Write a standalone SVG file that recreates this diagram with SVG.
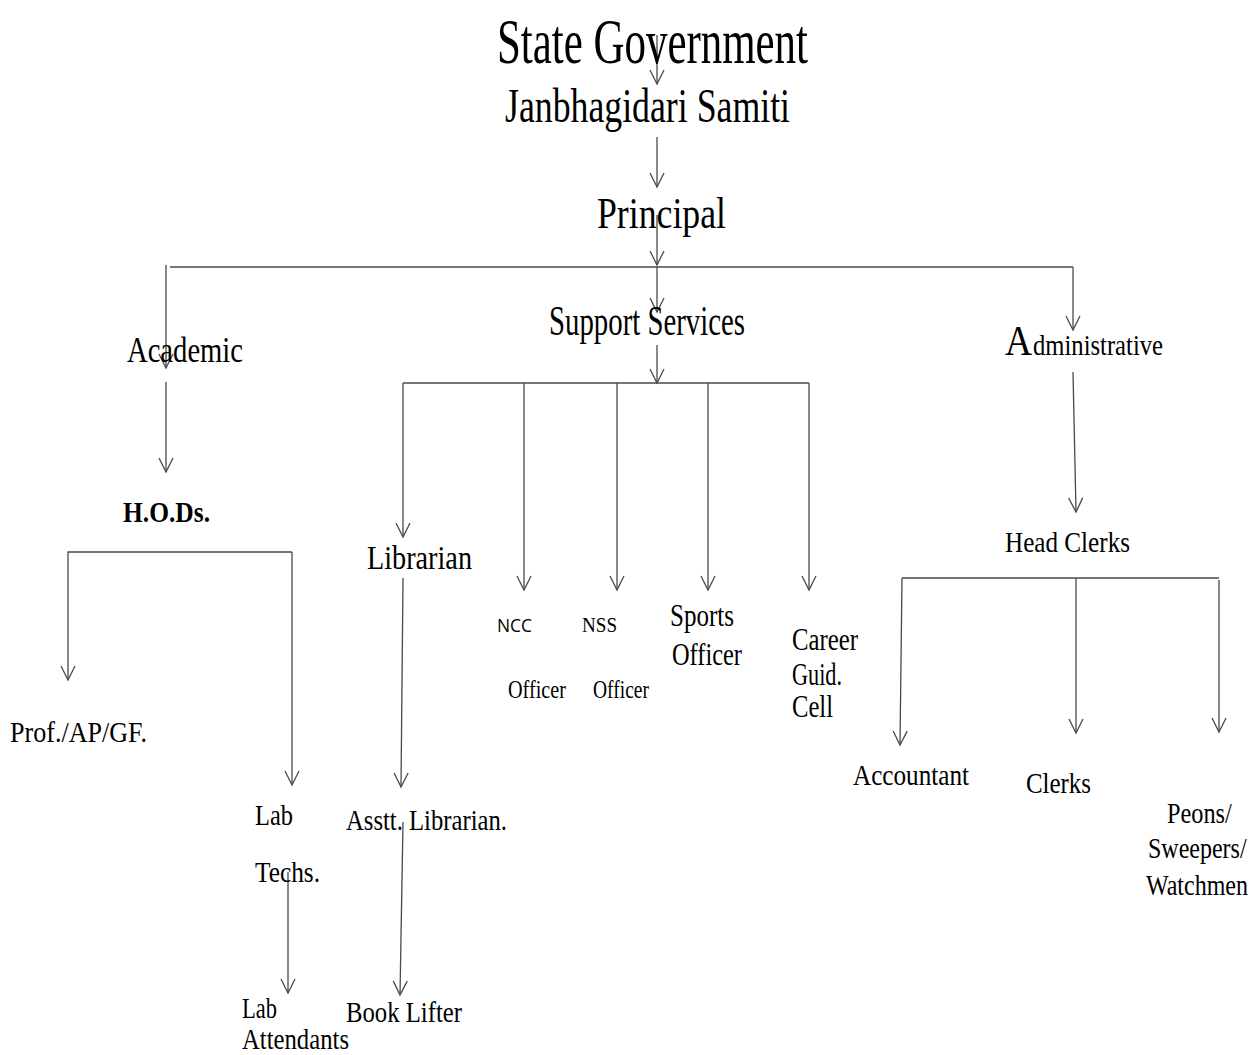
<svg xmlns="http://www.w3.org/2000/svg" width="1260" height="1055" viewBox="0 0 1260 1055">
<style>
text{font-family:"Liberation Serif","Times New Roman",serif;fill:#000;}
.c path,.c line{stroke:#4a4a4a;stroke-width:1.3;fill:none;}
.s{font-family:"Open Sans","Liberation Sans",sans-serif;}
</style>
<defs>
<marker id="a" markerUnits="userSpaceOnUse" markerWidth="18" markerHeight="18" viewBox="-16 -9 18 18" refX="0" refY="0" orient="auto" overflow="visible">
<path d="M-14,-7 L0,0 L-14,7" fill="none" stroke="#4a4a4a" stroke-width="1.3"/>
</marker>
</defs>
<rect width="1260" height="1055" fill="#fff"/>
<g class="c" id="connectors">
<line x1="657" y1="35" x2="657" y2="84" marker-end="url(#a)"/>
<line x1="657" y1="137" x2="657" y2="187" marker-end="url(#a)"/>
<line x1="657" y1="215" x2="657" y2="265" marker-end="url(#a)"/>
<path d="M170,267 L1073,267"/>
<line x1="166" y1="265" x2="166" y2="368" marker-end="url(#a)"/>
<line x1="1073" y1="267" x2="1073" y2="330" marker-end="url(#a)"/>
<line x1="657" y1="267" x2="657" y2="312" marker-end="url(#a)"/>
<line x1="166" y1="382" x2="166" y2="472" marker-end="url(#a)"/>
<path d="M292,552 L68,552 L68,680" marker-end="url(#a)"/>
<line x1="292" y1="552" x2="292" y2="785" marker-end="url(#a)"/>
<line x1="657" y1="345" x2="657" y2="383" marker-end="url(#a)"/>
<path d="M403,383 L809,383"/>
<line x1="403" y1="383" x2="403" y2="537" marker-end="url(#a)"/>
<line x1="524" y1="383" x2="524" y2="590" marker-end="url(#a)"/>
<line x1="617" y1="383" x2="617" y2="590" marker-end="url(#a)"/>
<line x1="708" y1="383" x2="708" y2="590" marker-end="url(#a)"/>
<line x1="809" y1="383" x2="809" y2="590" marker-end="url(#a)"/>
<line x1="403" y1="578" x2="401" y2="787" marker-end="url(#a)"/>
<line x1="403" y1="822" x2="400" y2="995" marker-end="url(#a)"/>
<line x1="288" y1="872" x2="288" y2="993" marker-end="url(#a)"/>
<line x1="1073" y1="372" x2="1076" y2="512" marker-end="url(#a)"/>
<path d="M902,578 L1219,578"/>
<line x1="902" y1="578" x2="900" y2="745" marker-end="url(#a)"/>
<line x1="1076" y1="578" x2="1076" y2="733" marker-end="url(#a)"/>
<line x1="1219" y1="580" x2="1219" y2="732" marker-end="url(#a)"/>
</g>
<g id="state-government"><text x="497" y="63" font-size="64" textLength="311" lengthAdjust="spacingAndGlyphs">State Government</text></g>
<g id="janbhagidari-samiti"><text x="505" y="122" font-size="48" textLength="285" lengthAdjust="spacingAndGlyphs">Janbhagidari Samiti</text></g>
<g id="principal"><text x="597" y="228" font-size="45" textLength="129" lengthAdjust="spacingAndGlyphs">Principal</text></g>
<g id="support-services"><text x="549" y="335" font-size="42" textLength="196" lengthAdjust="spacingAndGlyphs">Support Services</text></g>
<g id="academic"><text x="127" y="362" font-size="36" textLength="116" lengthAdjust="spacingAndGlyphs">Academic</text></g>
<g id="administrative"><text y="355"><tspan x="1005" font-size="42" textLength="27" lengthAdjust="spacingAndGlyphs">A</tspan><tspan x="1033" font-size="30" textLength="130" lengthAdjust="spacingAndGlyphs">dministrative</tspan></text></g>
<g id="hods"><text x="123" y="522" font-size="30" font-weight="bold" textLength="87" lengthAdjust="spacingAndGlyphs">H.O.Ds.</text></g>
<g id="librarian"><text x="367" y="569" font-size="34" textLength="105" lengthAdjust="spacingAndGlyphs">Librarian</text></g>
<g id="ncc-officer"><text class="s" x="497" y="632" font-size="19" textLength="35" lengthAdjust="spacingAndGlyphs">NCC</text><text x="508" y="698" font-size="25" textLength="58" lengthAdjust="spacingAndGlyphs">Officer</text></g>
<g id="nss-officer"><text x="582" y="632" font-size="22" textLength="35" lengthAdjust="spacingAndGlyphs">NSS</text><text x="593" y="698" font-size="25" textLength="56" lengthAdjust="spacingAndGlyphs">Officer</text></g>
<g id="sports-officer"><text x="670" y="626" font-size="31" textLength="64" lengthAdjust="spacingAndGlyphs">Sports</text><text x="672" y="665" font-size="31" textLength="70" lengthAdjust="spacingAndGlyphs">Officer</text></g>
<g id="career-guid-cell"><text x="792" y="650" font-size="31" textLength="66" lengthAdjust="spacingAndGlyphs">Career</text><text x="792" y="685" font-size="31" textLength="50" lengthAdjust="spacingAndGlyphs">Guid.</text><text x="792" y="717" font-size="31" textLength="41" lengthAdjust="spacingAndGlyphs">Cell</text></g>
<g id="prof-ap-gf"><text x="10" y="742" font-size="30" textLength="137" lengthAdjust="spacingAndGlyphs">Prof./AP/GF.</text></g>
<g id="lab-techs"><text x="255" y="825" font-size="30" textLength="38" lengthAdjust="spacingAndGlyphs">Lab</text><text x="255" y="882" font-size="30" textLength="65" lengthAdjust="spacingAndGlyphs">Techs.</text></g>
<g id="asst-librarian"><text x="346" y="830" font-size="30" textLength="161" lengthAdjust="spacingAndGlyphs">Asstt. Librarian.</text></g>
<g id="lab-attendants"><text x="242" y="1018" font-size="30" textLength="35" lengthAdjust="spacingAndGlyphs">Lab</text><text x="242" y="1049" font-size="30" textLength="107" lengthAdjust="spacingAndGlyphs">Attendants</text></g>
<g id="book-lifter"><text x="346" y="1022" font-size="30" textLength="116" lengthAdjust="spacingAndGlyphs">Book Lifter</text></g>
<g id="head-clerks"><text x="1005" y="552" font-size="30" textLength="125" lengthAdjust="spacingAndGlyphs">Head Clerks</text></g>
<g id="accountant"><text x="853" y="785" font-size="30" textLength="116" lengthAdjust="spacingAndGlyphs">Accountant</text></g>
<g id="clerks"><text x="1026" y="793" font-size="30" textLength="65" lengthAdjust="spacingAndGlyphs">Clerks</text></g>
<g id="peons"><text transform="translate(1167,823) scale(0.81,1)" x="0" y="0" font-size="30">Peons/</text><text transform="translate(1148,858) scale(0.8,1)" x="0" y="0" font-size="30">Sweepers/</text><text transform="translate(1146,895) scale(0.8,1)" x="0" y="0" font-size="30">Watchmen</text></g>
</svg>
